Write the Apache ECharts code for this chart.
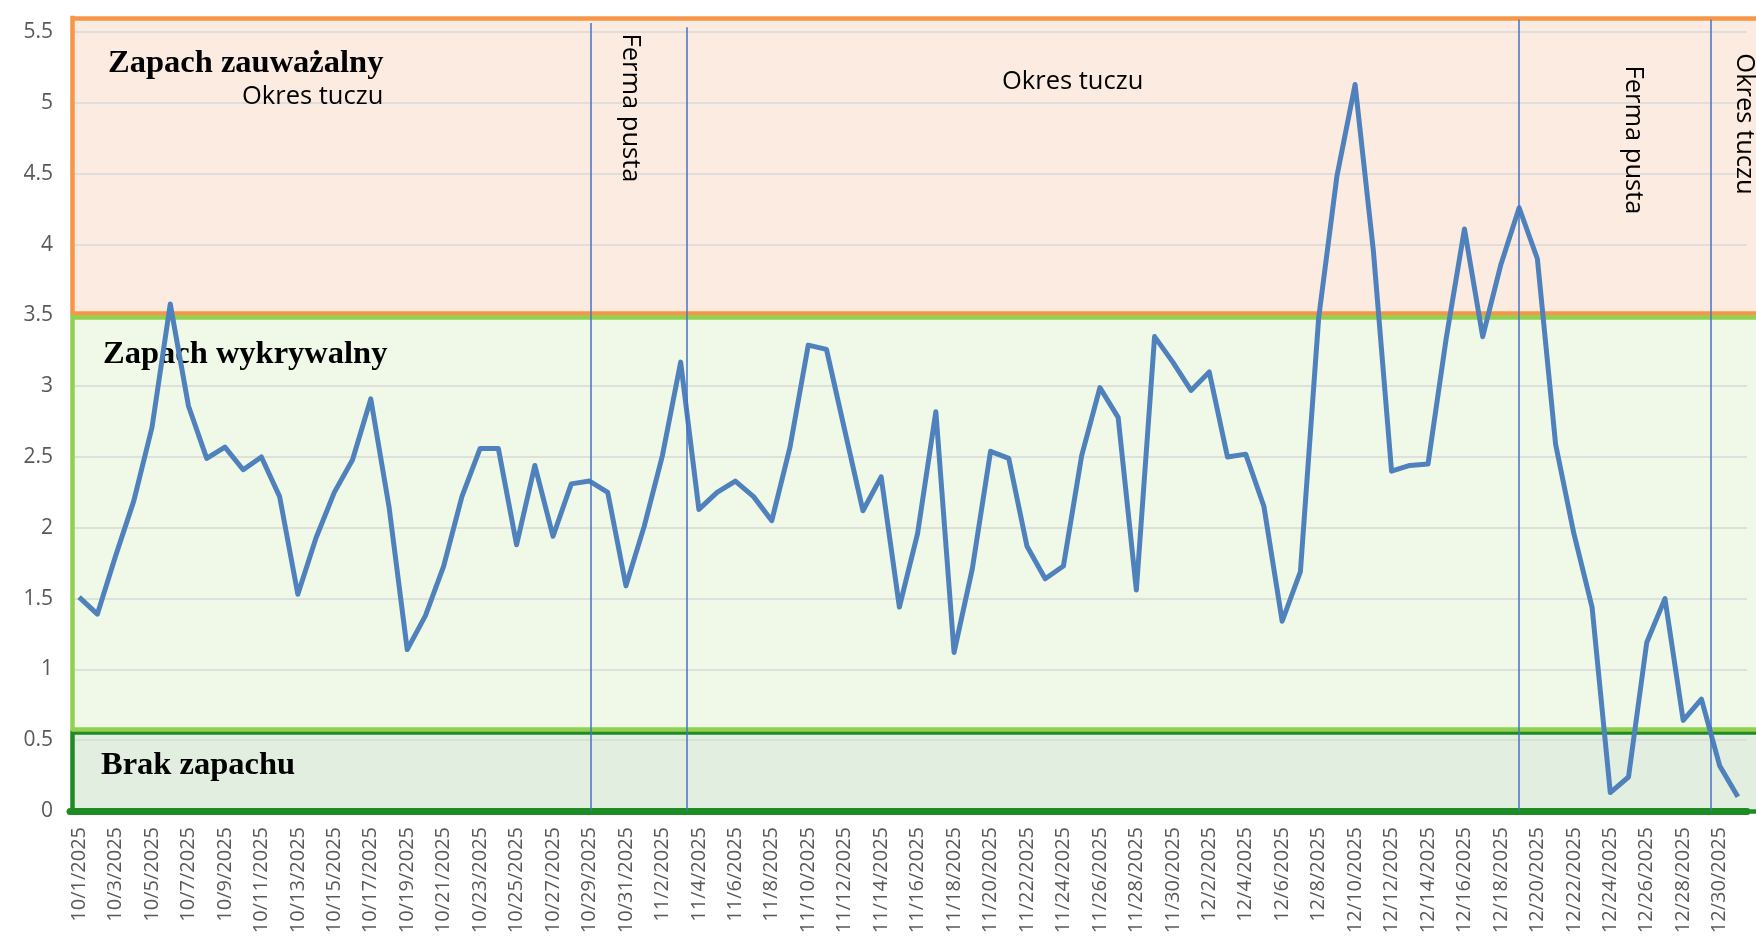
<!DOCTYPE html>
<html>
<head>
<meta charset="utf-8">
<script src="https://cdn.jsdelivr.net/npm/echarts@6/dist/echarts.min.js"></script>
<style>
  html, body { margin: 0; padding: 0; background: #fff; }
  #odour-chart { width: 1756px; height: 938px; }
</style>
</head>
<body>
<div id="odour-chart"></div>
<script>
// daily readings, 10/1/2025 - 12/31/2025
var days = [
  "10/1/2025", "10/2/2025", "10/3/2025", "10/4/2025", "10/5/2025", "10/6/2025", "10/7/2025", "10/8/2025",
  "10/9/2025", "10/10/2025", "10/11/2025", "10/12/2025", "10/13/2025", "10/14/2025", "10/15/2025", "10/16/2025",
  "10/17/2025", "10/18/2025", "10/19/2025", "10/20/2025", "10/21/2025", "10/22/2025", "10/23/2025", "10/24/2025",
  "10/25/2025", "10/26/2025", "10/27/2025", "10/28/2025", "10/29/2025", "10/30/2025", "10/31/2025",
  "11/1/2025", "11/2/2025", "11/3/2025", "11/4/2025", "11/5/2025", "11/6/2025", "11/7/2025", "11/8/2025",
  "11/9/2025", "11/10/2025", "11/11/2025", "11/12/2025", "11/13/2025", "11/14/2025", "11/15/2025", "11/16/2025",
  "11/17/2025", "11/18/2025", "11/19/2025", "11/20/2025", "11/21/2025", "11/22/2025", "11/23/2025", "11/24/2025",
  "11/25/2025", "11/26/2025", "11/27/2025", "11/28/2025", "11/29/2025", "11/30/2025",
  "12/1/2025", "12/2/2025", "12/3/2025", "12/4/2025", "12/5/2025", "12/6/2025", "12/7/2025", "12/8/2025",
  "12/9/2025", "12/10/2025", "12/11/2025", "12/12/2025", "12/13/2025", "12/14/2025", "12/15/2025", "12/16/2025",
  "12/17/2025", "12/18/2025", "12/19/2025", "12/20/2025", "12/21/2025", "12/22/2025", "12/23/2025", "12/24/2025",
  "12/25/2025", "12/26/2025", "12/27/2025", "12/28/2025", "12/29/2025", "12/30/2025", "12/31/2025"
];

var odour = [
  1.51, 1.39, 1.80, 2.19, 2.71, 3.58, 2.86, 2.49, 2.57, 2.41, 2.50, 2.22, 1.53, 1.93, 2.25, 2.48,
  2.91, 2.15, 1.14, 1.38, 1.73, 2.22, 2.56, 2.56, 1.88, 2.44, 1.94, 2.31, 2.33, 2.25, 1.59,
  2.01, 2.51, 3.17, 2.13, 2.25, 2.33, 2.22, 2.05, 2.57, 3.29, 3.26, 2.69, 2.12, 2.36, 1.44, 1.96,
  2.82, 1.12, 1.71, 2.54, 2.49, 1.87, 1.64, 1.73, 2.51, 2.99, 2.78, 1.56, 3.35, 3.17,
  2.97, 3.10, 2.50, 2.52, 2.15, 1.34, 1.69, 3.48, 4.48, 5.13, 3.96, 2.40, 2.44, 2.45, 3.34, 4.11,
  3.35, 3.86, 4.26, 3.90, 2.59, 1.96, 1.44, 0.13, 0.24, 1.19, 1.50, 0.64, 0.79, 0.32, 0.10
];

// odour zones (value ranges)
var zoneNames = ["Zapach zauważalny", "Brak zapachu", "Zapach wykrywalny"];
var zoneLow = [3.515, 0, 0.58];
var zoneHigh = [5.6, 0.555, 3.49];

// period boundaries, in days from 10/1 (line top value)
var phaseAt = [28.56, 33.83, 79.48, 90.0];
var phaseTop = [5.565, 5.535, 5.59, 5.59];

var zoneFill = ["#FBEBE0", "#E2EEE0", "#F0F8E7"];
var zoneBorder = ["#F79646", "#1E8B24", "#92D050"];

var dom = document.getElementById("odour-chart");
var myChart = echarts.init(dom);

// band layer spans to the right edge of the page (open on the right);
// its hidden y scale has a little headroom so the border corners fit
var bandStart = 0.12;
var bandEnd = 92.49;
var edgeW = 4.5;
var capY = 0.016; // half the border width, in y units

var areas = zoneNames.map(function (name, i) {
  return [
    { name: name, coord: [bandStart, zoneLow[i]], itemStyle: { color: zoneFill[i] } },
    { coord: [bandEnd, zoneHigh[i]] }
  ];
});

var edges = [];
zoneNames.forEach(function (name, i) {
  var ls = { color: zoneBorder[i], width: edgeW, type: "solid" };
  edges.push([{ coord: [bandStart, zoneHigh[i]], lineStyle: ls }, { coord: [bandEnd, zoneHigh[i]] }]);
  edges.push([{ coord: [bandStart, zoneLow[i]], lineStyle: ls }, { coord: [bandEnd, zoneLow[i]] }]);
  edges.push([{ coord: [bandStart, zoneLow[i] - capY], lineStyle: ls }, { coord: [bandStart, zoneHigh[i] + capY] }]);
});

var phaseLines = phaseAt.map(function (x, i) {
  return [{ coord: [x, phaseTop[i]] }, { coord: [x, 0] }];
});

var axisFont = "'Open Sans', sans-serif";
var boldFont = "bold 32.5px 'Liberation Serif', serif";
var noteFont = "25.5px 'Open Sans', sans-serif";

var option = {
  animation: false,
  grid: [
    { left: 70, right: 9, top: 18, bottom: 127 },
    { left: 70, right: 0, top: 10.92, bottom: 119.92 },
  ],
  xAxis: [
    {
      type: "category",
      gridIndex: 0,
      data: days,
      boundaryGap: true,
      offset: 4,
      axisLine: { lineStyle: { color: "#1E8B24", width: 7 } },
      axisTick: { interval: 1, length: 4, lineStyle: { color: "#D9D9D9", width: 2 } },
      axisLabel: { interval: 1, rotate: 90, margin: 12, fontSize: 20, color: "#595959", fontFamily: axisFont },
      splitLine: { show: false },
    },
    { type: "value", gridIndex: 1, min: 0, max: bandEnd, show: false },
  ],
  yAxis: [
    {
      type: "value",
      gridIndex: 0,
      min: 0,
      max: 5.6,
      interval: 0.5,
      axisLine: { show: false },
      axisTick: { show: false },
      axisLabel: { showMaxLabel: false, margin: 17, fontSize: 21, color: "#595959", fontFamily: axisFont },
      splitLine: { lineStyle: { color: "#D9D9D9", width: 1.5 } },
    },
    { type: "value", gridIndex: 1, min: -0.05, max: 5.65, show: false },
  ],
  graphic: [
    { type: "text", x: 108, y: 64, z: 1, style: { text: "Zapach zauważalny", font: boldFont, fill: "#000", align: "left", verticalAlign: "middle" } },
    { type: "text", x: 242, y: 97, z: 1, style: { text: "Okres tuczu", font: noteFont, fill: "#000", align: "left", verticalAlign: "middle" } },
    { type: "text", x: 1002, y: 82, z: 1, style: { text: "Okres tuczu", font: noteFont, fill: "#000", align: "left", verticalAlign: "middle" } },
    { type: "text", x: 103, y: 355, z: 1, style: { text: "Zapach wykrywalny", font: boldFont, fill: "#000", align: "left", verticalAlign: "middle" } },
    { type: "text", x: 101, y: 766, z: 1, style: { text: "Brak zapachu", font: boldFont, fill: "#000", align: "left", verticalAlign: "middle" } },
    { type: "text", x: 630, y: 108, z: 1, rotation: -Math.PI / 2, style: { text: "Ferma pusta", font: noteFont, fill: "#000", align: "center", verticalAlign: "middle" } },
    { type: "text", x: 1633, y: 140, z: 1, rotation: -Math.PI / 2, style: { text: "Ferma pusta", font: noteFont, fill: "#000", align: "center", verticalAlign: "middle" } },
    { type: "text", x: 1744.5, y: 124, z: 1, rotation: -Math.PI / 2, style: { text: "Okres tuczu", font: noteFont, fill: "#000", align: "center", verticalAlign: "middle" } },
  ],
  series: [
    {
      name: "zones",
      type: "line",
      xAxisIndex: 1,
      yAxisIndex: 1,
      data: [],
      markArea: { z: -1, silent: true, label: { show: false }, data: areas },
      markLine: {
        z: 1,
        silent: true,
        symbol: ["none", "none"],
        label: { show: false },
        data: edges,
      },
    },
    {
      name: "periods",
      type: "line",
      xAxisIndex: 1,
      yAxisIndex: 1,
      data: [],
      markLine: {
        silent: true,
        symbol: ["none", "none"],
        label: { show: false },
        lineStyle: { color: "#4472C4", width: 1.5, type: "solid" },
        data: phaseLines,
      },
    },
    {
      name: "Zapach",
      type: "line",
      data: odour,
      symbol: "none",
      z: 3,
      lineStyle: { color: "#4F81BD", width: 5, join: "round" },
    },
  ],
};

if (option && typeof option === "object") {
  myChart.setOption(option);
}
</script>
</body>
</html>
